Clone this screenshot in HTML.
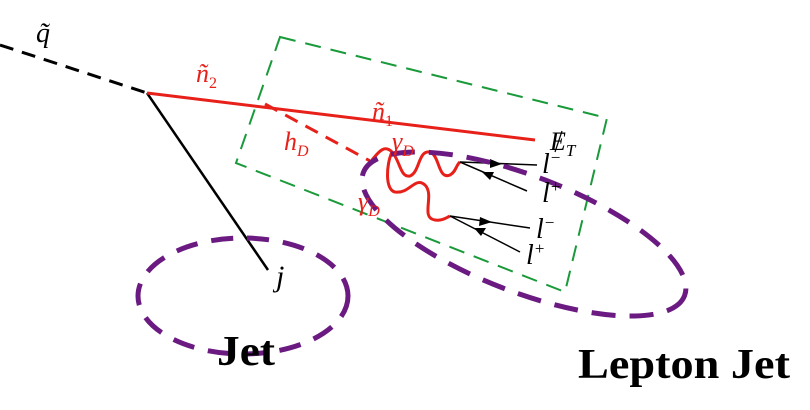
<!DOCTYPE html>
<html><head><meta charset="utf-8"><style>
html,body{margin:0;padding:0;background:#fff;width:810px;height:410px;overflow:hidden}
svg{display:block}
.m{font-family:"Liberation Serif",serif;font-style:italic}
</style></head><body>
<svg width="810" height="410" viewBox="0 0 810 410">
<polygon points="280,37 607,118 565,292 236,163" fill="none" stroke="#1a9a3a" stroke-width="2" stroke-dasharray="16,10"/>
<line x1="0" y1="45" x2="147" y2="93" stroke="#000" stroke-width="3" stroke-dasharray="14,9"/>
<line x1="147" y1="93" x2="268" y2="270" stroke="#000" stroke-width="2.5"/>
<line x1="147" y1="93" x2="535" y2="140" stroke="#e8201a" stroke-width="3"/>
<line x1="265" y1="104" x2="372" y2="162" stroke="#e8201a" stroke-width="3" stroke-dasharray="14,9"/>
<path d="M372,160 C380,150 385,145 392,152 C400,160 400,178 410,176 C420,172 418,150 430,152 C440,156 438,180 450,175 C456,172 456,165 460,162" fill="none" stroke="#e8201a" stroke-width="3"/>
<path d="M392,152 C386,165 385,190 395,192 C410,194 415,176 425,185 C435,195 420,218 435,220 C442,221 446,218 450,216" fill="none" stroke="#e8201a" stroke-width="3"/>
<g stroke="#000" stroke-width="1.5" fill="none">
<line x1="460" y1="162" x2="537" y2="165"/><line x1="460" y1="162" x2="527" y2="191"/>
<line x1="450" y1="216" x2="530" y2="228"/><line x1="450" y1="216" x2="520" y2="252"/>
</g>
<g fill="#000">
<polygon points="502,164 490,159 490,168"/><polygon points="482,172 494,172 490,180"/>
<polygon points="492,222 480,217 479,226"/><polygon points="474,228 486,228 481,236"/>
</g>
<ellipse cx="243" cy="296" rx="105" ry="58" fill="none" stroke="#6a1a80" stroke-width="5" stroke-dasharray="22,14"/>
<ellipse cx="524" cy="234" rx="172" ry="58" transform="rotate(21 524 234)" fill="none" stroke="#6a1a80" stroke-width="5" stroke-dasharray="24,14"/>
<text class="m" x="36" y="42" font-size="28">q̃</text>
<text class="m" x="196" y="82" font-size="26" fill="#e8201a">ñ<tspan font-size="16" font-style="normal" dy="6">2</tspan></text>
<text class="m" x="372" y="120" font-size="26" fill="#e8201a">ñ<tspan font-size="16" font-style="normal" dy="6">1</tspan></text>
<text class="m" x="284" y="150" font-size="26" fill="#e8201a">h<tspan font-size="16" dy="6">D</tspan></text>
<text class="m" x="392" y="150" font-size="26" fill="#e8201a">γ<tspan font-size="16" dy="6">D</tspan></text>
<text class="m" x="358" y="210" font-size="26" fill="#e8201a">γ<tspan font-size="16" dy="6">D</tspan></text>
<text class="m" x="550" y="150" font-size="26">E<tspan font-size="17" dy="6">T</tspan></text>
<line x1="562" y1="131" x2="555" y2="152" stroke="#000" stroke-width="1.2"/>
<text class="m" x="542" y="173" font-size="28">l<tspan font-size="17" dy="-10">−</tspan></text>
<text class="m" x="542" y="202" font-size="28">l<tspan font-size="17" dy="-10">+</tspan></text>
<text class="m" x="536" y="238" font-size="28">l<tspan font-size="17" dy="-10">−</tspan></text>
<text class="m" x="526" y="264" font-size="28">l<tspan font-size="17" dy="-10">+</tspan></text>
<text class="m" x="276" y="286" font-size="30">j</text>
<text x="217" y="365" font-family="Liberation Serif,serif" font-weight="bold" font-size="42" textLength="58" lengthAdjust="spacingAndGlyphs">Jet</text>
<text x="578" y="378" font-family="Liberation Serif,serif" font-weight="bold" font-size="42" textLength="212" lengthAdjust="spacingAndGlyphs">Lepton Jet</text>
</svg>
</body></html>
